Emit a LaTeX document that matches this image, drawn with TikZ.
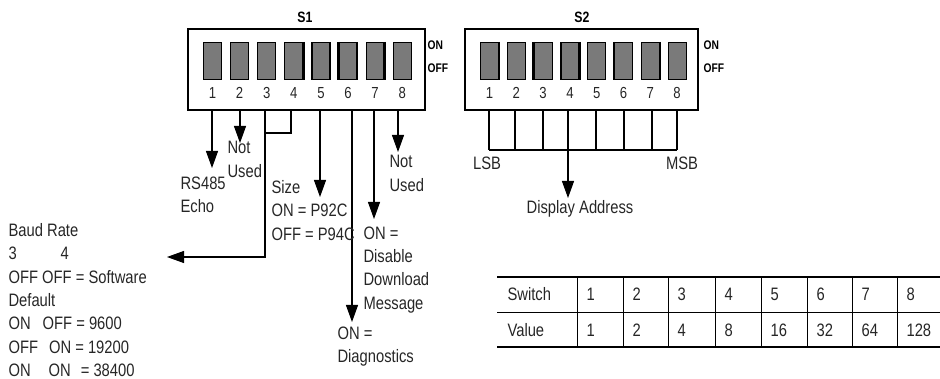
\documentclass[tikz,border=0pt]{standalone}
\usepackage{fontspec}
\setmainfont{Liberation Sans}[FakeStretch=0.82]
\usepackage{tikz}
\usetikzlibrary{arrows.meta}

\tikzset{
  lever/.style={draw=black,fill=black!52,line width=1.2pt,minimum width=18pt,minimum height=37pt,inner sep=0pt},
  dipbox/.style={draw=black,line width=1.4pt,inner sep=0pt},
  pinno/.style={font=\fontsize{16}{18}\selectfont,inner sep=0pt,text=black!85},
  headlbl/.style={font=\bfseries\fontsize{15}{17}\selectfont,inner sep=0pt},
  onoff/.style={font=\bfseries\fontsize{12.5}{14}\selectfont,inner sep=0pt,anchor=west},
  note/.style={font=\fontsize{18}{23.3}\selectfont,align=left,anchor=north west,inner sep=0pt,text=black!85},
  cell/.style={font=\fontsize{18}{20}\selectfont,anchor=west,inner sep=0pt,text=black!85},
  tip/.style={-{Triangle[length=17pt,width=12pt]}}
}

\begin{document}
\begin{tikzpicture}[x=1pt,y=-1pt,line width=1.1pt]
\useasboundingbox (0,0) rectangle (940,379);
\node[dipbox,minimum width=237pt,minimum height=81pt] (boxa) at (306.5,69.5) {};
\node[dipbox,minimum width=233pt,minimum height=81pt] (boxb) at (581.5,69.5) {};
\node[headlbl] (ta) at (305,17) {S1};
\node[headlbl] (tb) at (582,17) {S2};
\node[onoff] (ona) at (427,45) {ON};
\node[onoff] (offa) at (427,68) {OFF};
\node[onoff] (onb) at (703,45) {ON};
\node[onoff] (offb) at (703,68) {OFF};
\foreach \i in {1,...,8} {
  \node[lever] (la\i) at ({212.5+27.1*(\i-1)},61) {};
  \node[pinno] (na\i) at (la\i |- 0,93) {\i};
  \node[lever] (lb\i) at ({489.5+26.8*(\i-1)},61) {};
  \node[pinno] (nb\i) at (lb\i |- 0,93) {\i};
}
\foreach \n/\s in {la4/east,la6/west,la7/east,lb1/east,lb3/west,lb4/east,lb6/west,lb7/east}
  \draw[line width=2.6pt] (\n.north \s) -- (\n.south \s);
\foreach \i/\x in {1/212,2/240,3/265,4/291,5/320,6/352,7/374,8/398}
  \coordinate (pa\i) at (\x,110);
\foreach \i/\x in {1/489,2/515,3/543,4/568,5/596,6/624,7/652,8/677}
  \coordinate (pb\i) at (\x,110);

\coordinate (ea1) at (212,168);
\coordinate (ea2) at (240,143);
\coordinate (j34) at (265,133);
\coordinate (ea3) at (167,257);
\coordinate (ea5) at (320,197);
\coordinate (ea6) at (352,322);
\coordinate (ea7) at (374,219);
\coordinate (ea8) at (398,152);
\draw[tip] (pa1) -- (ea1);
\draw[tip] (pa2) -- (ea2);
\draw (pa4) |- (j34);
\draw[tip] (pa3) |- (ea3);
\draw[tip] (pa5) -- (ea5);
\draw[tip] (pa6) -- (ea6);
\draw[tip] (pa7) -- (ea7);
\draw[tip] (pa8) -- (ea8);

\node[note] (echo) at (180,176) {RS485\\Echo};
\node[note] (nu2) at (227,141) {Not\\Used};
\node[note] (size) at (271,180) {Size\\ON = P92C\\OFF = P94C};
\node[note] (nu8) at (389,155) {Not\\Used};
\node[note] (dis) at (363,226) {ON =\\Disable\\Download\\Message};
\node[note] (diag) at (337,326) {ON =\\Diagnostics};
\node[note] (baud) at (8,223) {Baud Rate\\
3\hspace{44pt}4\\
OFF OFF = Software\\
Default\\
ON\hspace{12pt}OFF = 9600\\
OFF\hspace{11pt}ON = 19200\\
ON\hspace{18pt}ON\hspace{10pt}= 38400};

\coordinate (bus) at (568,150);
\coordinate (eb) at (568,198);
\foreach \i in {1,...,8} \draw (pb\i) -- (pb\i |- bus);
\draw (pb1 |- bus) -- (pb8 |- bus);
\draw[tip] (bus) -- (eb);
\node[cell,anchor=center] (lsb) at (487,163) {LSB};
\node[cell,anchor=center] (msb) at (682,163) {MSB};
\node[cell,anchor=center] (addr) at (580,209) {Display Address};

\draw[line width=1.8pt] (497,277) -- (940,277);
\draw[line width=0.9pt] (497,312) -- (940,312);
\draw[line width=1.8pt] (497,347) -- (940,347);
\foreach \x in {577,623,668,715,761,807,852,897} \draw[line width=1pt] (\x,277) -- (\x,347);
\node[cell] (hsw) at (507,294) {Switch};
\node[cell] (hval) at (507,330) {Value};
\foreach \x/\s/\v [count=\i] in {577/1/1,623/2/2,668/3/4,715/4/8,761/5/16,807/6/32,852/7/64,897/8/128} {
  \node[cell] (cs\i) at (\x+9,294) {\s};
  \node[cell] (cv\i) at (\x+9,330) {\v};
}
\end{tikzpicture}
\end{document}
